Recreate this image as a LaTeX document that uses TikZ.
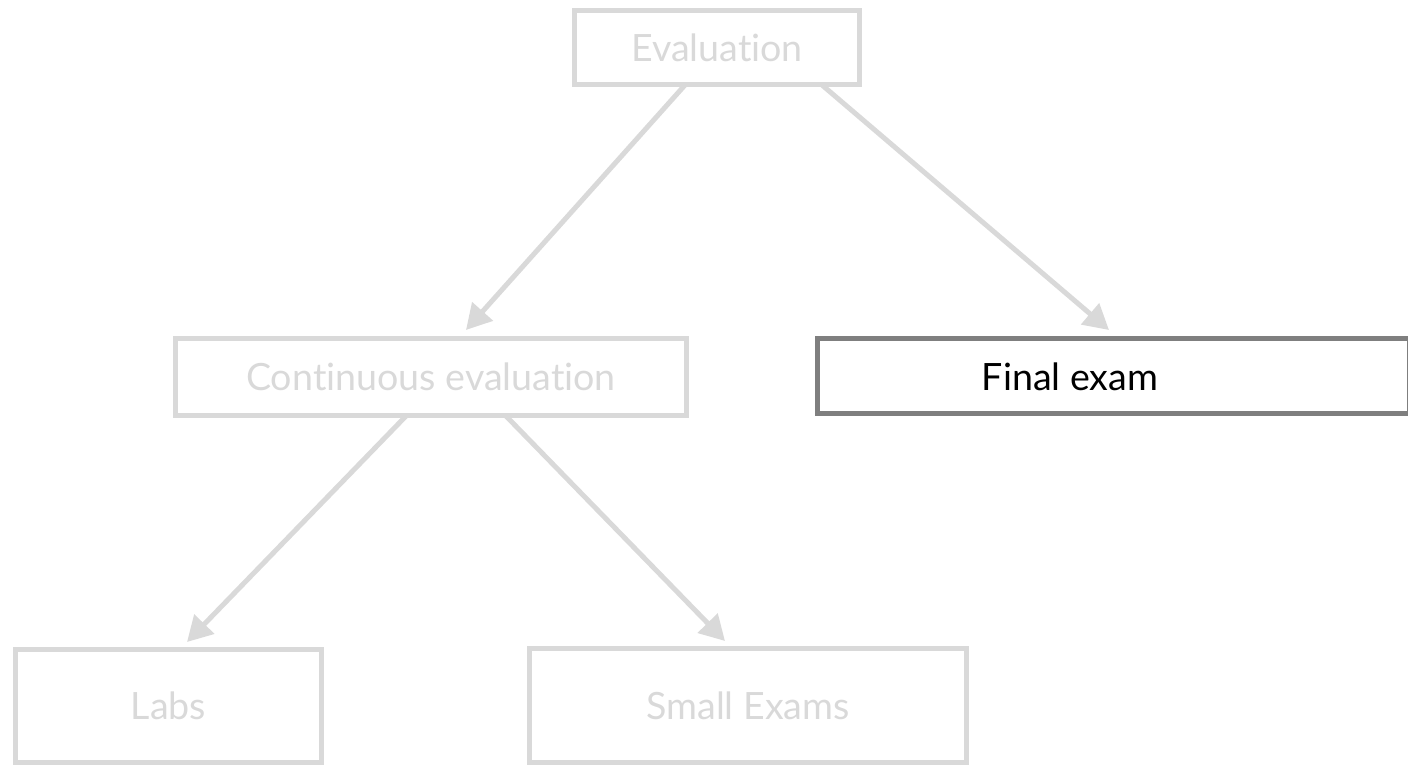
\documentclass[tikz,border=0pt]{standalone}
\usepackage{fontspec}
\setmainfont{Lato}[Ligatures=NoCommon]
\usetikzlibrary{arrows.meta,calc}
\definecolor{faint}{HTML}{D9D9D9}
\definecolor{frame}{HTML}{7F7F7F}
\begin{document}
\begin{tikzpicture}[x=0.5pt,y=-0.5pt,
  label font/.style={font=\fontsize{18.8}{22}\selectfont},
  box/.style={draw=faint, line width=2.5pt, text=faint, inner sep=0pt, label font},
  activebox/.style={draw=frame, line width=2.5pt, inner sep=0pt},
  arr/.style={draw=faint, line width=2.5pt, -{Triangle[length=12.5pt,width=13.5pt]}},
]
\useasboundingbox (0,0) rectangle (1408,765);

% boxes of the evaluation tree
\node[box, minimum width=142.5pt, minimum height=37pt] (eval) at (717,47.5) {Evaluation};
\node[box, minimum width=255.5pt, minimum height=38.5pt] (cont) at (431,377) {Continuous evaluation};
\node[activebox, minimum width=296pt, minimum height=37.5pt] (fin) at (1113.5,376) {};
\node[label font, text=black] (finlabel) at (1070,377) {Final exam};
\node[box, minimum width=153pt, minimum height=56.5pt] (labs) at (168.5,706) {Labs};
\node[box, minimum width=218.5pt, minimum height=57pt] (small) at (748,705.5) {Small Exams};

% connectors
\draw[arr] ($(eval.south)+(-32,-2)$) -- ($(cont.north)+(35,-6)$);
\draw[arr] ($(eval.south)+(105,-2)$) -- ($(fin.north)+(-4.5,-6)$);
\draw[arr] ($(cont.south)+(-25,-2)$) -- ($(labs.north)+(18.5,-5)$);
\draw[arr] ($(cont.south)+(75,-2)$) -- ($(small.north)+(-23,-5)$);
\end{tikzpicture}
\end{document}
